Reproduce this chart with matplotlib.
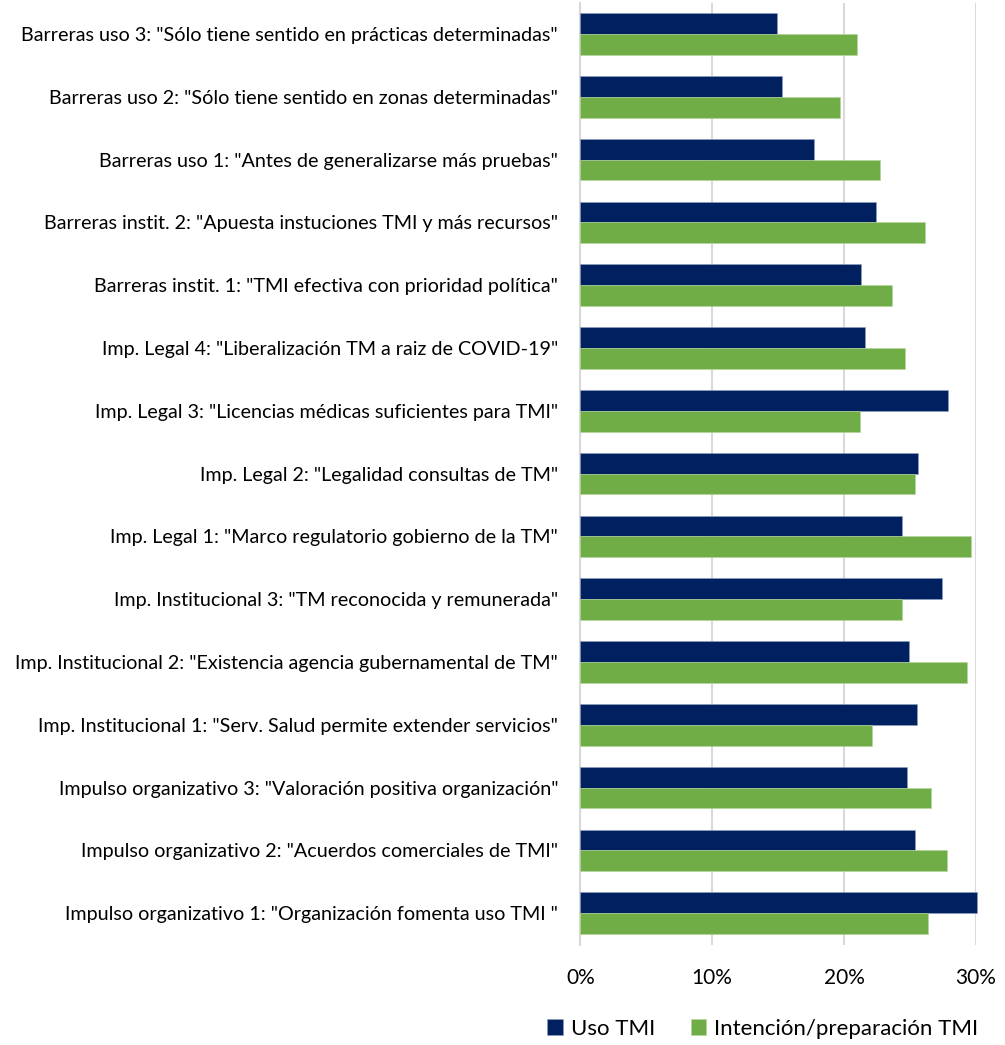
import matplotlib
matplotlib.use('Agg')
import matplotlib.pyplot as plt
import numpy as np

plt.rcParams['font.family'] = ['Lato', 'DejaVu Sans']

# categories, top to bottom as in the picture
labels = [
    'Barreras uso 3: "Sólo tiene sentido en prácticas determinadas"',
    'Barreras uso 2: "Sólo tiene sentido en zonas determinadas"',
    'Barreras uso 1: "Antes de generalizarse más pruebas"',
    'Barreras instit. 2: "Apuesta instuciones TMI y más recursos"',
    'Barreras instit. 1: "TMI efectiva con prioridad política"',
    'Imp. Legal 4: "Liberalización TM a raiz de COVID-19"',
    'Imp. Legal 3: "Licencias médicas suficientes para TMI"',
    'Imp. Legal 2: "Legalidad consultas de TM"',
    'Imp. Legal 1: "Marco regulatorio gobierno de la TM"',
    'Imp. Institucional 3: "TM reconocida y remunerada"',
    'Imp. Institucional 2: "Existencia agencia gubernamental de TM"',
    'Imp. Institucional 1: "Serv. Salud permite extender servicios"',
    'Impulso organizativo 3: "Valoración positiva organización"',
    'Impulso organizativo 2: "Acuerdos comerciales de TMI"',
    'Impulso organizativo 1: "Organización fomenta uso TMI "',
]
uso_tmi = [14.9, 15.3, 17.7, 22.4, 21.3, 21.6, 27.9, 25.6, 24.4, 27.4, 24.9, 25.5, 24.8, 25.4, 30.1]
intencion_tmi = [21.0, 19.7, 22.7, 26.1, 23.6, 24.6, 21.2, 25.4, 29.6, 24.4, 29.3, 22.1, 26.6, 27.8, 26.4]
x_ticks = [0, 10, 20, 30]
series_names = ['Uso TMI', 'Intención/preparación TMI']

NAVY = '#002060'
GREEN = '#70AD47'
GRID = '#D9D9D9'

fig = plt.figure(figsize=(10.05, 10.45), dpi=100)
ax = fig.add_axes([0.5774, 0.0961, 0.9711 - 0.5774, 0.9014])

y = np.arange(len(labels))
h = 0.33
ax.barh(y - h / 2, uso_tmi, height=h, color=NAVY, label=series_names[0],
        edgecolor='#8FA0C0', linewidth=0.4, clip_on=False, zorder=3)
ax.barh(y + h / 2, intencion_tmi, height=h, color=GREEN, label=series_names[1],
        edgecolor='#B5D69C', linewidth=0.4, clip_on=False, zorder=3)

ax.set_ylim(len(labels) - 0.5, -0.5)
ax.set_xlim(0, 30)
ax.set_yticks(y)
ax.set_yticklabels(labels, fontsize=14.2, color='#000000')
ax.set_xticks(x_ticks)
ax.set_xticklabels([f'{t}%' for t in x_ticks], fontsize=15)
ax.tick_params(axis='y', length=0, pad=16)
ax.tick_params(axis='x', length=0, pad=17)

ax.grid(axis='x', color=GRID, linewidth=1.5, zorder=0)
ax.set_axisbelow(True)
for side in ['top', 'right', 'bottom']:
    ax.spines[side].set_visible(False)
ax.spines['left'].set_color(GRID)
ax.spines['left'].set_linewidth(1.5)

handles, lbls = ax.get_legend_handles_labels()
fig.legend(handles, lbls, loc='center', bbox_to_anchor=(0.759, 0.0153), ncol=2,
           frameon=False, fontsize=16, handlelength=0.7, handleheight=0.7,
           handletextpad=0.35, columnspacing=1.6)

fig.savefig('out.png', dpi=100)
